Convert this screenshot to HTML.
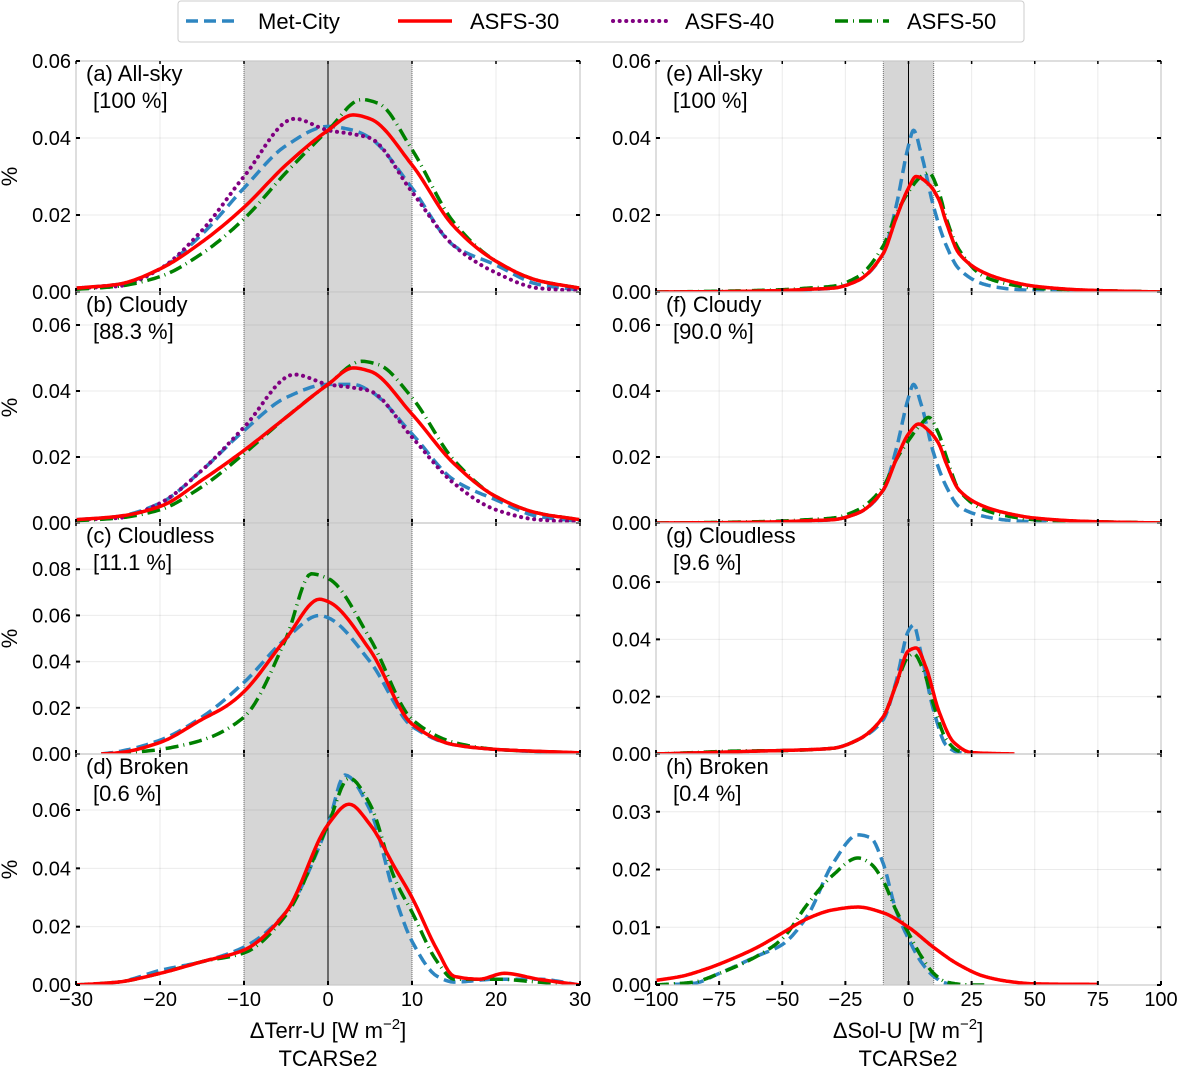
<!DOCTYPE html>
<html><head><meta charset="utf-8"><style>
body{margin:0;background:#fff;}
svg text{font-family:"Liberation Sans",Arial,sans-serif;fill:#000;}
</style></head><body>
<svg id="chart" width="1177" height="1069" viewBox="0 0 1177 1069" xmlns="http://www.w3.org/2000/svg"></svg>
<script>
// ---- data ----
const seriesNames = ["Met-City","ASFS-30","ASFS-40","ASFS-50"];
const leftXTicks = [-30,-20,-10,0,10,20,30];
const rightXTicks = [-100,-75,-50,-25,0,25,50,75,100];
const panelTitles = ["(a) All-sky","(b) Cloudy","(c) Cloudless","(d) Broken","(e) All-sky","(f) Cloudy","(g) Cloudless","(h) Broken"];
const panelFractions = ["[100 %]","[88.3 %]","[11.1 %]","[0.6 %]","[100 %]","[90.0 %]","[9.6 %]","[0.4 %]"];
const yTicksA = [0,0.02,0.04,0.06];
const yTicksC = [0,0.02,0.04,0.06,0.08];
const yTicksH = [0,0.01,0.02,0.03];

const aMetX=[-30,-25,-20,-15,-10,-5,0,3,5,10,15,20,25,30];
const aMetY=[0.001,0.002,0.006,0.015,0.027,0.038,0.043,0.042,0.040,0.027,0.012,0.007,0.002,0.0005];
const aA30X=[-30,-25,-20,-15,-10,-5,0,3,5,10,15,20,25,30];
const aA30Y=[0.001,0.002,0.006,0.013,0.022,0.033,0.042,0.046,0.045,0.033,0.017,0.008,0.003,0.001];
const aA40X=[-30,-25,-20,-15,-10,-4,0,3,5,10,15,20,25,30];
const aA40Y=[0.001,0.0015,0.006,0.016,0.030,0.045,0.042,0.041,0.040,0.026,0.012,0.005,0.001,0.0003];
const aA50X=[-30,-25,-20,-15,-10,-5,0,4,6,10,15,20,25,30];
const aA50Y=[0.0007,0.0015,0.004,0.010,0.019,0.031,0.042,0.050,0.049,0.037,0.018,0.008,0.003,0.001];

const bMetX=[-30,-25,-20,-15,-10,-5,0,3,5,10,15,20,25,30];
const bMetY=[0.001,0.002,0.006,0.016,0.028,0.038,0.042,0.042,0.040,0.027,0.013,0.007,0.002,0.0005];
const bA30X=[-30,-25,-20,-15,-10,-5,0,3,5,10,15,20,25,30];
const bA30Y=[0.001,0.002,0.005,0.013,0.022,0.032,0.042,0.047,0.046,0.033,0.018,0.008,0.003,0.001];
const bA40X=[-30,-25,-20,-15,-10,-4,0,3,5,10,15,20,25,30];
const bA40Y=[0.001,0.0015,0.006,0.016,0.029,0.045,0.042,0.041,0.040,0.026,0.012,0.004,0.001,0.0003];
const bA50X=[-30,-25,-20,-15,-10,-5,0,4,6,10,15,20,25,30];
const bA50Y=[0.0007,0.0015,0.004,0.011,0.021,0.032,0.042,0.049,0.048,0.038,0.019,0.008,0.003,0.001];

const cMetX=[-27,-25,-20,-15,-10,-5,-1,0,5,10,15,20,25,30];
const cMetY=[0,0.001,0.006,0.016,0.031,0.050,0.060,0.059,0.040,0.012,0.004,0.002,0.001,0.0005];
const cA30X=[-27,-25,-20,-15,-12,-10,-5,-1,0,5,10,15,20,30];
const cA30Y=[0,0.0005,0.005,0.015,0.021,0.027,0.050,0.067,0.066,0.045,0.013,0.004,0.002,0.0005];
const cA50X=[-25,-20,-15,-10,-5,-2,0,5,10,15,20,30];
const cA50Y=[0,0.002,0.006,0.016,0.050,0.078,0.076,0.050,0.015,0.005,0.002,0.0005];

const dMetX=[-30,-25,-20,-15,-10,-5,0,2,5,8,10,13,15,20,25,30];
const dMetY=[0,0.001,0.005,0.008,0.013,0.025,0.055,0.072,0.060,0.030,0.015,0.003,0.001,0.002,0.002,0];
const dA30X=[-30,-25,-20,-15,-10,-5,0,2.5,5,8,10,13,15,18,21,25,30];
const dA30Y=[0,0.001,0.004,0.008,0.012,0.025,0.055,0.062,0.055,0.040,0.030,0.012,0.003,0.002,0.004,0.002,0];
const dA50X=[-30,-25,-20,-15,-10,-5,0,2.5,5,8,10,13,15,20,25,30];
const dA50Y=[0,0.001,0.004,0.008,0.011,0.024,0.055,0.071,0.062,0.036,0.025,0.008,0.002,0.002,0.001,0];

const eMetX=[-100,-75,-50,-40,-30,-20,-10,-5,0,2,5,10,15,20,30,40,50,100];
const eMetY=[0,0.0001,0.0003,0.0006,0.001,0.003,0.010,0.022,0.038,0.042,0.036,0.022,0.012,0.006,0.002,0.0008,0.0004,0];
const eA30X=[-100,-75,-50,-40,-30,-20,-10,-5,0,3,8,12,15,20,30,40,50,70,100];
const eA30Y=[0,0.0001,0.0004,0.0007,0.001,0.003,0.010,0.019,0.027,0.030,0.028,0.024,0.018,0.010,0.005,0.0028,0.0015,0.0005,0];
const eA50X=[-100,-75,-50,-40,-30,-20,-10,-5,0,5,8,12,15,20,30,40,50,100];
const eA50Y=[0,0.0002,0.0006,0.001,0.0015,0.004,0.012,0.020,0.026,0.030,0.031,0.026,0.019,0.011,0.004,0.002,0.001,0];

const fMetX=[-100,-75,-50,-40,-30,-20,-10,-5,0,2,5,10,15,20,30,40,50,100];
const fMetY=[0,0.0001,0.0003,0.0006,0.001,0.003,0.010,0.022,0.038,0.042,0.036,0.021,0.011,0.005,0.002,0.0008,0.0004,0];
const fA30X=[-100,-75,-50,-40,-30,-20,-10,-5,0,4,8,12,15,20,30,40,50,70,100];
const fA30Y=[0,0.0001,0.0004,0.0007,0.001,0.003,0.010,0.019,0.027,0.030,0.028,0.024,0.018,0.010,0.005,0.0028,0.0015,0.0005,0];
const fA50X=[-100,-75,-50,-40,-30,-20,-10,-5,0,5,8,12,15,20,30,40,50,100];
const fA50Y=[0,0.0002,0.0006,0.001,0.0015,0.004,0.011,0.019,0.025,0.030,0.032,0.027,0.020,0.010,0.004,0.002,0.001,0];

const gMetX=[-100,-80,-60,-40,-30,-20,-10,-5,0,2,5,10,15,20,30];
const gMetY=[0,0.0005,0.001,0.0015,0.002,0.005,0.012,0.025,0.043,0.045,0.035,0.015,0.003,0.0005,0];
const gA30X=[-100,-80,-60,-40,-30,-20,-10,-5,0,3,7,12,18,25,42];
const gA30Y=[0,0.0005,0.001,0.0015,0.002,0.005,0.013,0.024,0.036,0.037,0.030,0.015,0.004,0.0005,0];
const gA50X=[-100,-85,-70,-50,-30,-20,-10,-5,0,2,6,10,15,20,28];
const gA50Y=[0,0.0005,0.001,0.0012,0.002,0.005,0.013,0.024,0.034,0.035,0.029,0.017,0.005,0.001,0];

const hMetX=[-100,-85,-75,-60,-50,-40,-30,-20,-15,-10,-5,0,5,10,15,20];
const hMetY=[0,0.0003,0.002,0.005,0.007,0.012,0.021,0.026,0.0255,0.021,0.013,0.008,0.004,0.0015,0.0003,0];
const hA30X=[-100,-90,-80,-70,-60,-50,-40,-30,-20,-10,0,10,20,30,40,50,75];
const hA30Y=[0.0008,0.0015,0.0028,0.0045,0.0065,0.009,0.0115,0.013,0.0135,0.0125,0.010,0.0065,0.0035,0.0015,0.0006,0.0002,0.0001];
const hA50X=[-100,-85,-75,-60,-50,-40,-30,-20,-15,-10,-5,0,5,10,15,25,30];
const hA50Y=[0,0.0005,0.002,0.005,0.008,0.014,0.019,0.022,0.021,0.018,0.013,0.009,0.005,0.002,0.0005,0,0];

// ---- layout ----
const NS="http://www.w3.org/2000/svg";
const svg=document.getElementById('chart');
function mk(tag,attrs,parent){const e=document.createElementNS(NS,tag);for(const k in attrs)e.setAttribute(k,attrs[k]);(parent||svg).appendChild(e);return e;}
const styles={
 "Met-City":{stroke:"#2e86c1",dash:"12,6"},
 "ASFS-30":{stroke:"#ff0000",dash:""},
 "ASFS-40":{stroke:"#800080",dash:"0.1,6.5"},
 "ASFS-50":{stroke:"#008000",dash:"13,5,1,5"}
};
const rowTop=[61,292,523,754], rowBot=[292,523,754,985];
const panels=[
 {col:0,row:0,ymax:0.06,yt:yTicksA,s:[["Met-City",aMetX,aMetY],["ASFS-40",aA40X,aA40Y],["ASFS-50",aA50X,aA50Y],["ASFS-30",aA30X,aA30Y]]},
 {col:0,row:1,ymax:0.07,yt:yTicksA,s:[["Met-City",bMetX,bMetY],["ASFS-40",bA40X,bA40Y],["ASFS-50",bA50X,bA50Y],["ASFS-30",bA30X,bA30Y]]},
 {col:0,row:2,ymax:0.1,yt:yTicksC,s:[["Met-City",cMetX,cMetY],["ASFS-50",cA50X,cA50Y],["ASFS-30",cA30X,cA30Y]]},
 {col:0,row:3,ymax:0.0792,yt:yTicksA,s:[["Met-City",dMetX,dMetY],["ASFS-50",dA50X,dA50Y],["ASFS-30",dA30X,dA30Y]]},
 {col:1,row:0,ymax:0.06,yt:yTicksA,s:[["Met-City",eMetX,eMetY],["ASFS-50",eA50X,eA50Y],["ASFS-30",eA30X,eA30Y]]},
 {col:1,row:1,ymax:0.07,yt:yTicksA,s:[["Met-City",fMetX,fMetY],["ASFS-50",fA50X,fA50Y],["ASFS-30",fA30X,fA30Y]]},
 {col:1,row:2,ymax:0.0806,yt:yTicksA,s:[["Met-City",gMetX,gMetY],["ASFS-50",gA50X,gA50Y],["ASFS-30",gA30X,gA30Y]]},
 {col:1,row:3,ymax:0.04,yt:yTicksH,s:[["Met-City",hMetX,hMetY],["ASFS-50",hA50X,hA50Y],["ASFS-30",hA30X,hA30Y]]}
];
const cols=[{x0:76,x1:580,min:-30,max:30,ticks:leftXTicks},{x0:656,x1:1161,min:-100,max:100,ticks:rightXTicks}];

// monotone cubic (Fritsch-Carlson) sampled densely
function monoSample(X,Y){
 const n=X.length,d=[],m=new Array(n);
 for(let i=0;i<n-1;i++)d.push((Y[i+1]-Y[i])/(X[i+1]-X[i]));
 m[0]=d[0];m[n-1]=d[n-2];
 for(let i=1;i<n-1;i++){
  if(d[i-1]*d[i]<=0)m[i]=0;
  else{const h0=X[i]-X[i-1],h1=X[i+1]-X[i];const w1=2*h1+h0,w2=h1+2*h0;m[i]=(w1+w2)/(w1/d[i-1]+w2/d[i]);}
 }
 const out=[];
 for(let i=0;i<n-1;i++){
  const h=X[i+1]-X[i];const N=Math.max(4,Math.ceil(h*3));
  for(let k=0;k<N;k++){const t=k/N;const t2=t*t,t3=t2*t;
   const y=(2*t3-3*t2+1)*Y[i]+(t3-2*t2+t)*h*m[i]+(-2*t3+3*t2)*Y[i+1]+(t3-t2)*h*m[i+1];
   out.push([X[i]+t*h,y]);}
 }
 out.push([X[n-1],Y[n-1]]);
 return out;
}

panels.forEach((p,i)=>{
 const c=cols[p.col];const top=rowTop[p.row],bot=rowBot[p.row];
 const xs=v=>c.x0+(v-c.min)/(c.max-c.min)*(c.x1-c.x0);
 const ys=v=>bot-v/p.ymax*(bot-top);
 const g=mk('g',{});
 
 
 const cid='clip'+i;
 const cp=mk('clipPath',{id:cid},g);mk('rect',{x:c.x0,y:top-2,width:c.x1-c.x0,height:bot-top+2},cp);
 const sh=mk('rect',{x:xs(-10),y:top,width:xs(10)-xs(-10),height:bot-top,fill:"#d6d6d6"},g);
 
 
 c.ticks.forEach(t=>mk('line',{x1:xs(t),x2:xs(t),y1:top,y2:bot,stroke:"#000","stroke-opacity":0.08,"stroke-width":1},g));
 p.yt.forEach(t=>mk('line',{x1:c.x0,x2:c.x1,y1:ys(t),y2:ys(t),stroke:"#000","stroke-opacity":0.08,"stroke-width":1},g));
 mk('line',{x1:xs(-10),x2:xs(-10),y1:top,y2:bot,stroke:"#555","stroke-width":0.8,"stroke-dasharray":"1,1"},g);
 mk('line',{x1:xs(10),x2:xs(10),y1:top,y2:bot,stroke:"#555","stroke-width":0.8,"stroke-dasharray":"1,1"},g);
 mk('line',{x1:xs(0),x2:xs(0),y1:top,y2:bot,stroke:"#000","stroke-width":1},g);
 const sg=mk('g',{"clip-path":"url(#"+cid+")"},g);
 p.s.forEach(([name,X,Y])=>{
  const pts=monoSample(X,Y).map(q=>xs(q[0]).toFixed(1)+","+ys(q[1]).toFixed(1));
  const st=styles[name];
  const path=mk('path',{d:"M"+pts.join(" L"),fill:"none",stroke:st.stroke,"stroke-width":name==="ASFS-40"?4:3.5,"stroke-dasharray":st.dash,"stroke-linecap":name==="ASFS-40"?"round":"butt","stroke-linejoin":"round"},sg);
  
  
 });
 mk('rect',{x:c.x0,y:top,width:c.x1-c.x0,height:bot-top,fill:"none",stroke:"#c8c8c8","stroke-width":1.2},g);
 c.ticks.forEach(t=>{mk('line',{x1:xs(t),x2:xs(t),y1:bot,y2:bot-4,stroke:"#000","stroke-width":2},g);mk('line',{x1:xs(t),x2:xs(t),y1:top,y2:top+3,stroke:"#000","stroke-width":1.5},g);});
 p.yt.forEach(t=>{mk('line',{x1:c.x0,x2:c.x0+4,y1:ys(t),y2:ys(t),stroke:"#000","stroke-width":2},g);mk('line',{x1:c.x1,x2:c.x1-4,y1:ys(t),y2:ys(t),stroke:"#000","stroke-width":2},g);
  const tl=mk('text',{x:c.x0-5,y:ys(t)+7,"text-anchor":"end","font-size":20},g);tl.textContent=t.toFixed(2);
  
  });
 if(p.row===3){c.ticks.forEach(t=>{const tl=mk('text',{x:xs(t),y:bot+21,"text-anchor":"middle","font-size":20},g);tl.textContent=(t<0?"\u2212"+(-t):String(t));
  
  });}
 const t1=mk('text',{x:c.x0+10,y:top+20,"font-size":22},g);t1.textContent=panelTitles[i];
 
 
 const t2=mk('text',{x:c.x0+17,y:top+47,"font-size":22},g);t2.textContent=panelFractions[i];
 
 
 if(p.col===0){const yl=mk('text',{x:0,y:0,"font-size":22,"text-anchor":"middle",transform:"translate(17,"+((top+bot)/2)+") rotate(-90)"},g);yl.textContent="%";
  
  }
});
[["\u0394Terr-U [W m",328],["\u0394Sol-U [W m",908]].forEach(([s,cx])=>{
 const t=mk('text',{x:cx,y:1038,"text-anchor":"middle","font-size":22});
 
 
 t.textContent=s;
 const sp=mk('tspan',{dy:-9,"font-size":15},t);sp.textContent="\u22122";
 const sp2=mk('tspan',{dy:9},t);sp2.textContent="]";
 const t3=mk('text',{x:cx,y:1066,"text-anchor":"middle","font-size":22});t3.textContent="TCARSe2";
 
 
});
const lg=mk('g',{});


mk('rect',{x:178,y:1,width:846,height:41,rx:3,fill:"#fff",stroke:"#ccc","stroke-width":1},lg);
const legX=[186,398,613,835];
seriesNames.forEach((n,k)=>{
 const st=styles[n];
 const e=mk('g',{},lg);
 
 
 mk('line',{x1:legX[k],x2:legX[k]+54,y1:21,y2:21,stroke:st.stroke,"stroke-width":n==="ASFS-40"?4:3.5,"stroke-dasharray":st.dash,"stroke-linecap":n==="ASFS-40"?"round":"butt"},e);
 const t=mk('text',{x:legX[k]+72,y:29,"font-size":22},e);t.textContent=n;
});
</script>
</body></html>
